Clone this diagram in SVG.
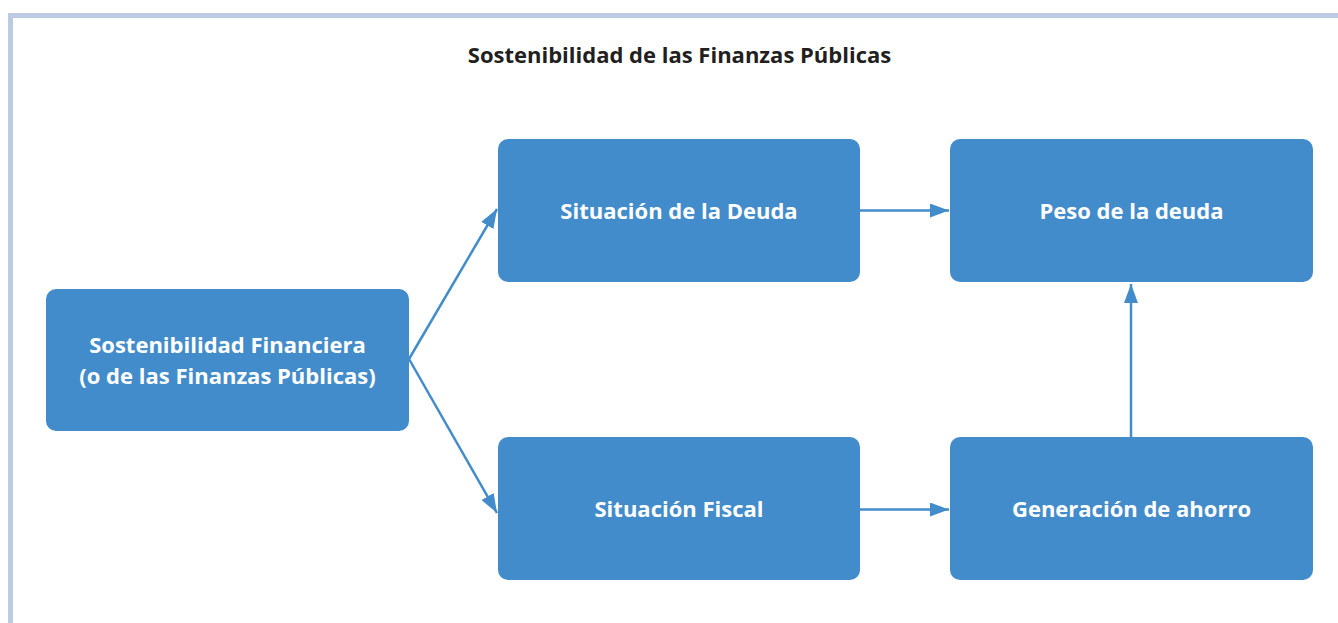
<svg xmlns="http://www.w3.org/2000/svg" width="1338" height="623" viewBox="0 0 1338 623">
<defs>
<style>
.box{fill:#438ccb}
.lbl{font-family:"Open Sans","Liberation Sans",sans-serif;font-weight:700;font-size:22px;fill:#ffffff;text-anchor:middle}
.title{font-family:"Open Sans","Liberation Sans",sans-serif;font-weight:700;font-size:22px;fill:#231f20;text-anchor:middle}
.conn{stroke:#438ccb;stroke-width:2.5;fill:none}
</style>
<marker id="ah" markerUnits="userSpaceOnUse" markerWidth="20" markerHeight="14" refX="19" refY="7" orient="auto">
<path d="M0,0 L19,7 L0,14 Z" fill="#438ccb"/>
</marker>
</defs>
<rect width="1338" height="623" fill="#ffffff"/>
<path d="M10.5,623 V15.5 H1338" stroke="#bccbe2" stroke-width="5" fill="none"/>
<text class="title" x="679.5" y="63">Sostenibilidad de las Finanzas Públicas</text>
<g id="n-sostenibilidad">
<rect class="box" x="46" y="289" width="363" height="142" rx="10"/>
<text class="lbl" x="227.5" y="353">Sostenibilidad Financiera</text>
<text class="lbl" x="227.5" y="383.5">(o de las Finanzas Públicas)</text>
</g>
<g id="n-deuda">
<rect class="box" x="498" y="139" width="362" height="143" rx="10"/>
<text class="lbl" x="679" y="219">Situación de la Deuda</text>
</g>
<g id="n-peso">
<rect class="box" x="950" y="139" width="363" height="143" rx="10"/>
<text class="lbl" x="1131.5" y="219">Peso de la deuda</text>
</g>
<g id="n-fiscal">
<rect class="box" x="498" y="437" width="362" height="143" rx="10"/>
<text class="lbl" x="679" y="517">Situación Fiscal</text>
</g>
<g id="n-ahorro">
<rect class="box" x="950" y="437" width="363" height="143" rx="10"/>
<text class="lbl" x="1131.5" y="517">Generación de ahorro</text>
</g>
<g id="connectors">
<path class="conn" d="M409,359 L497,209" marker-end="url(#ah)"/>
<path class="conn" d="M409,359 L497,513" marker-end="url(#ah)"/>
<path class="conn" d="M860,210.5 L949,210.5" marker-end="url(#ah)"/>
<path class="conn" d="M860,509.5 L949,509.5" marker-end="url(#ah)"/>
<path class="conn" d="M1131,437 L1131,284" marker-end="url(#ah)"/>
</g>
</svg>
